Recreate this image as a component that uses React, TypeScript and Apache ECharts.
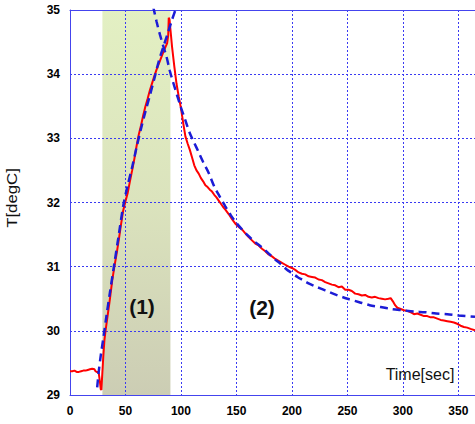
import React, { useEffect, useRef } from "react";
import * as echarts from "echarts";

// Measured temperature (red)
const measTime = [
  0, 2, 4, 6, 8, 10, 12, 14, 16, 18, 20, 22, 23, 24, 25, 26, 27, 27.7, 28.3, 29, 30, 31, 32, 34, 36, 38, 40,
  42, 44, 46, 48, 50, 52, 54, 56, 58, 60, 62, 64, 66, 68, 70, 72, 74, 76, 78, 80, 82, 84, 86, 87.5, 88.5, 89,
  89.7, 90.5, 92, 94, 96, 98, 100, 102, 104, 106, 108, 110, 112, 114, 116, 118, 120, 122, 124, 126, 128, 130,
  132, 134, 136, 138, 140, 143, 146, 149, 152, 155, 158, 161, 164, 167, 170, 173, 176, 179, 182, 185, 188, 191,
  194, 197, 200, 203, 206, 209, 212, 215, 218, 221, 224, 227, 230, 233, 236, 239, 242, 245, 248, 251, 254, 257,
  260, 263, 266, 269, 272, 275, 278, 281, 284, 287, 289, 291, 293, 295, 298, 301, 304, 307, 310, 313, 316, 319,
  322, 325, 328, 331, 334, 337, 340, 343, 346, 349, 352, 355, 358, 361, 365,
];
const measTemp = [
  29.37, 29.37, 29.38, 29.36, 29.36, 29.37, 29.38, 29.38, 29.39, 29.4, 29.41, 29.4, 29.37, 29.36, 29.36, 29.33,
  29.2, 29.09, 29.08, 29.3, 29.6, 29.85, 30.0, 30.25, 30.5, 30.78, 31.0, 31.2, 31.42, 31.66, 31.88, 32.02, 32.15,
  32.33, 32.5, 32.68, 32.88, 33.06, 33.2, 33.36, 33.5, 33.62, 33.75, 33.86, 33.97, 34.07, 34.16, 34.25, 34.34,
  34.42, 34.48, 34.6, 34.88, 34.85, 34.7, 34.42, 34.12, 33.85, 33.65, 33.47, 33.24, 33.03, 32.92, 32.82, 32.7,
  32.58, 32.5, 32.45, 32.38, 32.33, 32.27, 32.24, 32.2, 32.17, 32.12, 32.08, 32.03, 31.98, 31.93, 31.89, 31.82,
  31.74, 31.67, 31.62, 31.58, 31.52, 31.46, 31.41, 31.36, 31.33, 31.28, 31.24, 31.19, 31.16, 31.12, 31.09,
  31.06, 31.03, 31.0, 30.98, 30.95, 30.91, 30.89, 30.88, 30.85, 30.84, 30.83, 30.8, 30.79, 30.76, 30.74, 30.72,
  30.71, 30.68, 30.69, 30.64, 30.64, 30.62, 30.58, 30.57, 30.55, 30.56, 30.53, 30.52, 30.53, 30.51, 30.5, 30.49,
  30.5, 30.51, 30.46, 30.4, 30.36, 30.34, 30.32, 30.31, 30.29, 30.26, 30.27, 30.25, 30.23, 30.23, 30.21, 30.21,
  30.19, 30.17, 30.16, 30.15, 30.14, 30.13, 30.11, 30.08, 30.06, 30.05, 30.03, 30.01,
];

// Fitted curve, heating phase (1) (blue dashed)
const fitHeatTime = [24.5, 26, 28, 30, 33, 36, 40, 44, 48, 52, 56, 60, 64, 68, 72, 76, 80, 84, 88, 92, 96];
const fitHeatTemp = [
  29.12, 29.38, 29.65, 29.88, 30.25, 30.6, 31.05, 31.5, 31.95, 32.27, 32.55, 32.86, 33.15, 33.42, 33.67, 33.93,
  34.2, 34.42, 34.63, 34.85, 35.05,
];

// Fitted curve, cooling phase (2) (blue dashed)
const fitCoolTime = [
  75, 78, 81, 84, 87, 90, 93, 96, 100, 104, 108, 112, 116, 120, 125, 130, 135, 140, 145, 150, 155, 160, 165, 170,
  175, 180, 185, 190, 195, 200, 205, 210, 215, 220, 230, 240, 250, 260, 270, 280, 290, 300, 310, 320, 330, 340,
  350, 365,
];
const fitCoolTemp = [
  35.05, 34.82, 34.62, 34.44, 34.27, 34.05, 33.87, 33.7, 33.48, 33.28, 33.08, 32.93, 32.78, 32.63, 32.46, 32.25,
  32.09, 31.94, 31.8, 31.68, 31.58, 31.49, 31.41, 31.34, 31.27, 31.19, 31.11, 31.04, 30.96, 30.9, 30.84, 30.79,
  30.74, 30.7, 30.63, 30.56, 30.5, 30.45, 30.4, 30.37, 30.34, 30.32, 30.3, 30.29, 30.27, 30.26, 30.24, 30.22,
];

const heatingPhase = [29.2, 90.5];
const xMin = 0;
const xMax = 365;
const xInterval = 50;
const yMin = 29;
const yMax = 35;
const yInterval = 1;

const zip = (a: number[], b: number[]) => a.map((v, i) => [v, b[i]]);

export default function App() {
  const ref = useRef<HTMLDivElement>(null);
  useEffect(() => {
    if (!ref.current) return;
    const chart = echarts.init(ref.current, undefined, { renderer: "svg" });
    const gridColor = "#3a3af2";
    const font = "Liberation Sans, Arial, sans-serif";
    const labelStyle = {
      color: "#000",
      fontFamily: font,
      fontWeight: "bold" as const,
      fontSize: 12,
    };
    chart.setOption({
      animation: false,
      backgroundColor: "#fff",
      grid: { left: 70, right: 0, top: 10, bottom: 29 },
      xAxis: [
        {
          type: "value",
          min: xMin,
          max: xMax,
          interval: xInterval,
          z: 1,
          axisLine: { show: true, onZero: false, lineStyle: { color: "#4444ee", width: 1 } },
          axisTick: { show: false },
          axisLabel: { ...labelStyle, margin: 10 },
          splitLine: { show: true, lineStyle: { color: gridColor, type: [2, 2], width: 1 } },
        },
        {
          type: "value",
          position: "top",
          min: xMin,
          max: xMax,
          z: 1,
          axisLine: { show: true, lineStyle: { color: "#4444ee", width: 1 } },
          axisTick: { show: false },
          axisLabel: { show: false },
          splitLine: { show: false },
        },
      ],
      yAxis: {
        type: "value",
        min: yMin,
        max: yMax,
        interval: yInterval,
        z: 1,
        axisLine: { show: true, onZero: false, lineStyle: { color: "#4444ee", width: 1 } },
        axisTick: { show: false },
        axisLabel: { ...labelStyle, margin: 10 },
        splitLine: { show: true, lineStyle: { color: gridColor, type: [2, 2], width: 1 } },
      },
      series: [
        {
          type: "line",
          z: 0,
          data: [],
          markArea: {
            silent: true,
            z: 0,
            itemStyle: {
              color: new echarts.graphic.LinearGradient(0, 0, 0, 1, [
                { offset: 0, color: "#e3f0c3" },
                { offset: 0.5, color: "#dbe3bd" },
                { offset: 1, color: "#cccdb4" },
              ]),
            },
            data: [[{ xAxis: heatingPhase[0] }, { xAxis: heatingPhase[1] }]],
          },
        },
        {
          type: "line",
          data: zip(measTime, measTemp),
          showSymbol: false,
          lineStyle: { color: "#ff0000", width: 2 },
          z: 3,
        },
        {
          type: "line",
          data: zip(fitHeatTime, fitHeatTemp),
          showSymbol: false,
          smooth: 0.3,
          lineStyle: { color: "#1c1cd6", width: 2.5, type: [8, 5] },
          z: 4,
        },
        {
          type: "line",
          data: zip(fitCoolTime, fitCoolTemp),
          showSymbol: false,
          smooth: 0.3,
          lineStyle: { color: "#1c1cd6", width: 2.5, type: [8, 5] },
          z: 4,
        },
      ],
      graphic: [
        {
          type: "text",
          z: 100,
          x: 12,
          y: 198,
          rotation: Math.PI / 2,
          scaleX: 1.2,
          style: {
            text: "T[degC]",
            fill: "#111",
            font: `14px ${font}`,
            align: "center",
            verticalAlign: "middle",
          },
        },
        {
          type: "text",
          z: 100,
          x: 420,
          y: 374,
          style: {
            text: "Time[sec]",
            fill: "#111",
            font: `16px ${font}`,
            align: "center",
            verticalAlign: "middle",
          },
        },
        {
          type: "text",
          z: 100,
          x: 142,
          y: 306,
          style: {
            text: "(1)",
            fill: "#111",
            font: `bold 21px ${font}`,
            align: "center",
            verticalAlign: "middle",
          },
        },
        {
          type: "text",
          z: 100,
          x: 262,
          y: 307,
          style: {
            text: "(2)",
            fill: "#111",
            font: `bold 21px ${font}`,
            align: "center",
            verticalAlign: "middle",
          },
        },
      ],
    });
    return () => chart.dispose();
  }, []);
  return (
    <div
      ref={ref}
      style={{ position: "absolute", left: 0, top: 0, width: 475, height: 424 }}
    />
  );
}
